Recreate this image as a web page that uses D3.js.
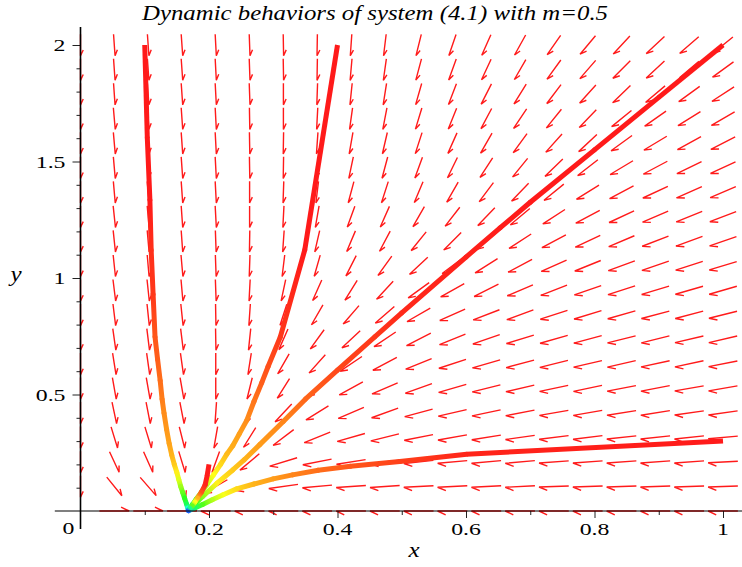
<!DOCTYPE html>
<html lang="en">
  <head>
    <meta charset="utf-8">
    <title>Dynamic behaviors of system (4.1)</title>
    <script src="https://d3js.org/d3.v7.min.js"></script>
    <style>
      body { margin: 0; background: #fff; }
      svg { display: block; }
    </style>
  </head>
  <body>
    <div id="chart"></div>
    <script>
      // grid of the direction field (20 x 20 points over the view)
      var gridX = [0, 0.0526, 0.1053, 0.1579, 0.2105, 0.2632, 0.3158, 0.3684, 0.4211, 0.4737,
                   0.5263, 0.5789, 0.6316, 0.6842, 0.7368, 0.7895, 0.8421, 0.8947, 0.9474, 1]
      var gridY = [0, 0.1053, 0.2105, 0.3158, 0.4211, 0.5263, 0.6316, 0.7368, 0.8421, 0.9474,
                   1.0526, 1.1579, 1.2632, 1.3684, 1.4737, 1.5789, 1.6842, 1.7895, 1.8947, 2]

      // arrow directions, degrees (0 = right, -90 = down), one row per gridY
      var angleRow0  = [null, 0, 0, 0, 180, 180, 180, 180, 180, 180, 180, 180, 180, 180, 180, 180, 180, 180, 180, 180]
      var angleRow1  = [-90, -51, -49, -70, -150, -165, -172, -175, -176, -176, -177, -177, -177, -177, -178, -178, -178, -178, -178, -178]
      var angleRow2  = [-90, -65, -66, -73, -110, -140, -163, -169, -171, -173, -174, -175, -175, -175, -176, -176, -176, -176, -176, -177]
      var angleRow3  = [-90, -73, -73, -76, -100, -122, -143, -158, -164, -166, -169, -170, -171, -172, -173, -173, -174, -174, -174, -175]
      var angleRow4  = [-90, -78, -79, -79, -94, -110, -133, -148, -157, -160, -165, -167, -168, -169, -170, -170, -171, -171, -172, -172]
      var angleRow5  = [-90, -80, -80, -80, -90, -104, -122, -139, -151, -157, -160, -164, -166, -167, -168, -168, -169, -169, -170, -170]
      var angleRow6  = [-90, -81, -82, -82, -90, -99, -120, -132, -146, -152, -158, -162, -164, -165, -166, -167, -167, -168, -168, -169]
      var angleRow7  = [-90, -82, -83, -83, -89, -96, -114, -126, -137, -146, -153, -158, -161, -163, -164, -165, -166, -166, -167, -167]
      var angleRow8  = [-90, -83, -84, -84, -89, -94, -108, -120, -131, -139, -150, -156, -159, -160, -162, -163, -164, -165, -165, -166]
      var angleRow9  = [-90, -83, -84, -85, -88, -93, -102, -114, -122, -133, -144, -151, -153, -157, -159, -161, -162, -163, -164, -164]
      var angleRow10 = [-90, -84, -85, -85, -88, -92, -97, -106, -117, -126, -137, -143, -148, -152, -156, -158, -160, -161, -162, -163]
      var angleRow11 = [-90, -84, -85, -86, -88, -91, -94, -103, -113, -118, -129, -135, -140, -147, -152, -155, -157, -159, -160, -161]
      var angleRow12 = [-90, -84, -85, -86, -87, -90, -93, -100, -110, -114, -120, -128, -134, -140, -147, -152, -155, -157, -158, -159]
      var angleRow13 = [-90, -85, -85, -86, -87, -90, -92, -97, -105, -108, -113, -120, -127, -134, -141, -148, -152, -155, -156, -157]
      var angleRow14 = [-90, -85, -86, -86, -87, -89, -91, -95, -102, -105, -110, -116, -123, -129, -136, -142, -149, -152, -154, -155]
      var angleRow15 = [-90, -85, -86, -86, -87, -89, -91, -94, -100, -103, -108, -114, -120, -126, -132, -137, -144, -149, -151, -153]
      var angleRow16 = [-90, -85, -86, -86, -87, -89, -90, -93, -98, -101, -107, -112, -118, -124, -129, -134, -141, -145, -148, -150]
      var angleRow17 = [-90, -86, -86, -86, -87, -88, -90, -92, -96, -99, -106, -111, -117, -122, -127, -132, -136, -140, -144, -147]
      var angleRow18 = [-90, -86, -86, -86, -87, -88, -89, -91, -95, -98, -105, -110, -115, -120, -126, -131, -135, -137, -140, -144]
      var angleRow19 = [-90, -86, -86, -86, -87, -88, -89, -91, -94, -97, -104, -109, -114, -119, -125, -130, -133, -137, -139, -141]

      // solution curves, start point first; hue is the colour along the curve (red -> blue)
      var traj1X   = [0.100, 0.104, 0.108, 0.110, 0.113, 0.116, 0.120, 0.124, 0.127, 0.130, 0.134, 0.138, 0.142, 0.146, 0.150, 0.153, 0.156, 0.159, 0.162, 0.165, 0.167, 0.168]
      var traj1Y   = [2.000, 1.600, 1.335, 1.120, 0.930, 0.747, 0.650, 0.560, 0.480, 0.420, 0.350, 0.290, 0.240, 0.200, 0.165, 0.135, 0.105, 0.080, 0.055, 0.030, 0.012, 0.003]
      var traj1Hue = [0, 0, 0, 6, 8, 16, 18, 22, 26, 30, 33, 36, 40, 46, 56, 68, 85, 100, 115, 135, 170, 230]

      var traj2X   = [0.400, 0.349, 0.311, 0.292, 0.282, 0.270, 0.259, 0.247, 0.237, 0.228, 0.218, 0.207, 0.197, 0.188, 0.180, 0.174, 0.170, 0.168]
      var traj2Y   = [2.000, 1.120, 0.747, 0.620, 0.550, 0.470, 0.390, 0.330, 0.280, 0.245, 0.200, 0.155, 0.115, 0.080, 0.050, 0.027, 0.010, 0.002]
      var traj2Hue = [0, 0, 8, 14, 18, 24, 30, 35, 38, 42, 50, 60, 75, 92, 110, 135, 170, 230]

      var traj3X   = [1.000, 0.900, 0.800, 0.700, 0.653, 0.600, 0.500, 0.458, 0.400, 0.350, 0.316, 0.279, 0.255, 0.237, 0.212, 0.190, 0.178, 0.171, 0.168]
      var traj3Y   = [2.000, 1.775, 1.550, 1.325, 1.215, 1.090, 0.850, 0.747, 0.605, 0.480, 0.385, 0.285, 0.220, 0.176, 0.118, 0.062, 0.030, 0.012, 0.002]
      var traj3Hue = [0, 0, 0, 0, 1, 2, 4, 8, 12, 20, 28, 34, 40, 46, 56, 90, 115, 150, 220]

      var traj4X   = [1.000, 0.601, 0.497, 0.420, 0.370, 0.330, 0.300, 0.270, 0.243, 0.222, 0.205, 0.190, 0.178, 0.170]
      var traj4Y   = [0.300, 0.244, 0.212, 0.192, 0.175, 0.155, 0.138, 0.116, 0.095, 0.070, 0.048, 0.028, 0.013, 0.004]
      var traj4Hue = [0, 3, 10, 16, 22, 28, 34, 40, 50, 62, 80, 105, 140, 200]

      var traj5X   = [0.200, 0.197, 0.194, 0.188, 0.182, 0.178, 0.174, 0.170, 0.168]
      var traj5Y   = [0.200, 0.150, 0.112, 0.080, 0.055, 0.038, 0.022, 0.010, 0.002]
      var traj5Hue = [0, 1, 3, 15, 40, 60, 100, 150, 220]

      // axes
      var xMajorTicks = [0.2, 0.4, 0.6, 0.8, 1]
      var xTickLabels = ["0.2", "0.4", "0.6", "0.8", "1"]
      var xMinorTicks = [0.1, 0.3, 0.5, 0.7, 0.9]
      var yMajorTicks = [0.5, 1, 1.5, 2]
      var yTickLabels = ["0.5", "1", "1.5", "2"]
      var yMinorTicks = [0.1, 0.2, 0.3, 0.4, 0.6, 0.7, 0.8, 0.9, 1.1, 1.2, 1.3, 1.4, 1.6, 1.7, 1.8, 1.9]

      var fieldAngles = [angleRow0, angleRow1, angleRow2, angleRow3, angleRow4, angleRow5, angleRow6,
        angleRow7, angleRow8, angleRow9, angleRow10, angleRow11, angleRow12, angleRow13, angleRow14,
        angleRow15, angleRow16, angleRow17, angleRow18, angleRow19]
      var curves = [
        {x: traj1X, y: traj1Y, hue: traj1Hue},
        {x: traj2X, y: traj2Y, hue: traj2Hue},
        {x: traj3X, y: traj3Y, hue: traj3Hue},
        {x: traj4X, y: traj4Y, hue: traj4Hue},
        {x: traj5X, y: traj5Y, hue: traj5Hue}
      ]

      var margins = {top: 45, right: 19, bottom: 56, left: 80.5},
        width = 742 - margins.left - margins.right,
        height = 567 - margins.top - margins.bottom

      var svg = d3.select("#chart")
        .append("svg")
          .attr("width", 742)
          .attr("height", 567)
          .style("font-family", "Liberation Serif")
      var defs = svg.append("defs")
      var g = svg.append("g")
        .attr("transform", "translate(" + margins.left + "," + margins.top + ")")

      var x = d3.scaleLinear().domain([0, 1]).range([0, width])
      var y = d3.scaleLinear().domain([0, 2]).range([height, 0])

      // ---- direction field ----
      var cellW = x(gridX[1]) - x(gridX[0]),
        cellH = y(gridY[0]) - y(gridY[1])

      var arrows = []
      fieldAngles.forEach(function (row, j) {
        row.forEach(function (a, i) {
          if (a === null) return
          arrows.push({gx: gridX[i], gy: gridY[j], a: a})
        })
      })

      function arrowPath(d) {
        var r = d.a * Math.PI / 180,
          c = Math.cos(r), s = Math.sin(r)
        // length normalised to the grid cell, like maple's fieldplot
        var len = 0.88 / Math.sqrt(Math.pow(c / cellW, 2) + Math.pow(s / cellH, 2))
        var ux = c, uy = -s
        var cx = x(d.gx), cy = y(d.gy)
        var x0 = cx - ux * len / 2, y0 = cy - uy * len / 2
        var x1 = cx + ux * len / 2, y1 = cy + uy * len / 2
        // one-sided head
        var t = 25 * Math.PI / 180, bx = -ux, by = -uy
        var rx = bx * Math.cos(t) - by * Math.sin(t),
          ry = bx * Math.sin(t) + by * Math.cos(t)
        var hl = len * 0.3
        return "M" + x0 + "," + y0 + "L" + x1 + "," + y1 + "L" + (x1 + rx * hl) + "," + (y1 + ry * hl)
      }

      g.append("g")
        .selectAll("path")
        .data(arrows)
        .join("path")
          .attr("d", arrowPath)
          .attr("fill", "none")
          .attr("stroke", "#ff1a1a")
          .attr("stroke-width", 1.4)

      // ---- solution curves ----
      function hueColor(h) { return d3.hsl(h, 1, 0.55).toString() }

      curves.forEach(function (cv, k) {
        var cg = g.append("g")
        for (var n = 0; n < cv.x.length - 1; n++) {
          var x1 = x(cv.x[n]), y1 = y(cv.y[n]), x2 = x(cv.x[n + 1]), y2 = y(cv.y[n + 1])
          var id = "seg" + k + "_" + n
          var grad = defs.append("linearGradient")
            .attr("id", id)
            .attr("gradientUnits", "userSpaceOnUse")
            .attr("x1", x1).attr("y1", y1).attr("x2", x2).attr("y2", y2)
          grad.append("stop").attr("offset", 0).attr("stop-color", hueColor(cv.hue[n]))
          grad.append("stop").attr("offset", 1).attr("stop-color", hueColor(cv.hue[n + 1]))
          cg.append("line")
            .attr("x1", x1).attr("y1", y1).attr("x2", x2).attr("y2", y2)
            .attr("stroke", "url(#" + id + ")")
            .attr("stroke-width", 5)
            .attr("stroke-linecap", n === 0 ? "butt" : "round")
        }
      })

      // ---- axes ----
      g.append("g").call(d3.axisLeft(y).tickValues(yMinorTicks).tickSize(4).tickFormat(""))
      g.append("g").call(d3.axisLeft(y).tickValues(yMajorTicks).tickSize(8).tickFormat(""))
      g.append("g").attr("transform", "translate(0," + height + ")")
        .call(d3.axisBottom(x).tickValues(xMinorTicks).tickSize(4).tickFormat(""))
      g.append("g").attr("transform", "translate(0," + height + ")")
        .call(d3.axisBottom(x).tickValues(xMajorTicks).tickSize(7).tickFormat(""))
      g.selectAll(".domain").remove()
      g.selectAll(".tick line").attr("stroke", "#222")

      // axis lines run a little past the view
      g.append("line")
        .attr("x1", x(0)).attr("x2", x(0))
        .attr("y1", y(2.077)).attr("y2", y(-0.077))
        .attr("stroke", "#000").attr("stroke-width", 1.6)
      g.append("line")
        .attr("x1", x(-0.04)).attr("x2", x(1.03))
        .attr("y1", y(0)).attr("y2", y(0))
        .attr("stroke", "#000").attr("stroke-width", 1.1)

      var labelStretch = 1.4
      g.append("g").selectAll("text")
        .data(yMajorTicks)
        .join("text")
          .attr("transform", function (d) { return "translate(" + (x(0) - 15) + "," + (y(d) + 6) + ") scale(" + labelStretch + ",1)" })
          .attr("text-anchor", "end")
          .attr("font-size", 17)
          .text(function (d, i) { return yTickLabels[i] })
      g.append("g").selectAll("text")
        .data(xMajorTicks)
        .join("text")
          .attr("transform", function (d) { return "translate(" + x(d) + "," + (y(0) + 24) + ") scale(" + labelStretch + ",1)" })
          .attr("text-anchor", "middle")
          .attr("font-size", 17)
          .text(function (d, i) { return xTickLabels[i] })
      g.append("text")
        .attr("transform", "translate(" + (x(0) - 12) + "," + (y(0) + 23) + ") scale(" + labelStretch + ",1)")
        .attr("text-anchor", "middle")
        .attr("font-size", 17)
        .text("0")

      // axis titles and title
      g.append("text")
        .attr("transform", "translate(" + (414 - margins.left) + "," + (y(0) + 46) + ") scale(1.25,1)")
        .attr("text-anchor", "middle")
        .attr("font-size", 20).attr("font-style", "italic")
        .text("x")
      g.append("text")
        .attr("transform", "translate(" + (16 - margins.left) + "," + (y(1) + 3) + ") scale(1.25,1)")
        .attr("text-anchor", "middle")
        .attr("font-size", 20).attr("font-style", "italic")
        .text("y")

      svg.append("text")
        .attr("x", 142).attr("y", 20)
        .attr("textLength", 466)
        .attr("lengthAdjust", "spacingAndGlyphs")
        .attr("font-size", 20).attr("font-style", "italic")
        .text("Dynamic behaviors of system (4.1) with m=0.5")
    </script>
  </body>
</html>
